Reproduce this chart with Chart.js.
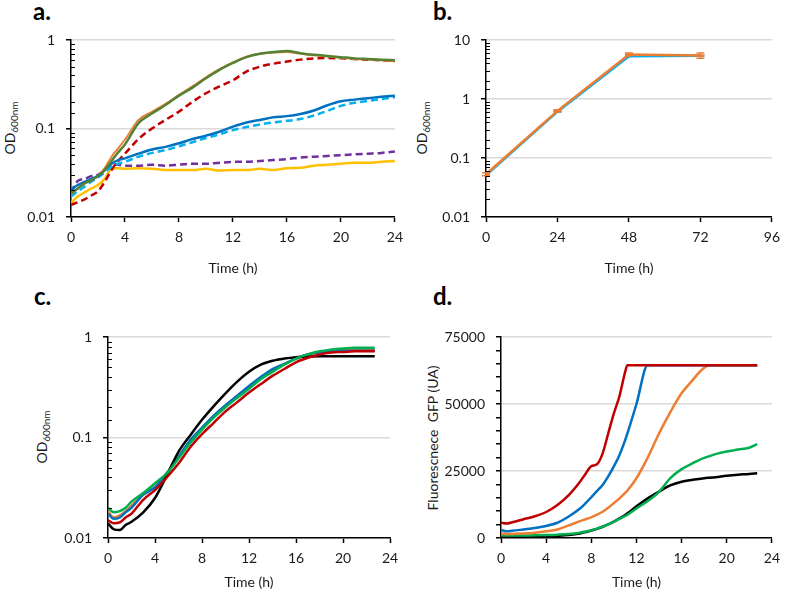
<!DOCTYPE html>
<html><head><meta charset="utf-8">
<script src="https://cdn.jsdelivr.net/npm/chart.js@4/dist/chart.umd.min.js"></script>
<style>
body{margin:0;background:#fff;width:787px;height:591px;overflow:hidden;position:relative;font-family:Lato,'Open Sans',sans-serif;}
canvas{position:absolute;}
.lbl{position:absolute;font-weight:bold;font-size:24px;line-height:24px;color:#000;}
.yt{position:absolute;font-size:14px;color:#1a1a1a;white-space:pre;line-height:14px;transform:translate(-50%,-50%) rotate(-90deg);}
.yt sub{font-size:10px;vertical-align:-3px;line-height:10px;}
</style></head><body>
<div class="lbl" style="left:33px;top:-1px">a.</div>
<div class="lbl" style="left:433px;top:-1px">b.</div>
<div class="lbl" style="left:34px;top:284px">c.</div>
<div class="lbl" style="left:433px;top:284px">d.</div>
<div class="yt" style="left:11px;top:128px">OD<sub>600nm</sub></div>
<div class="yt" style="left:423px;top:128px">OD<sub>600nm</sub></div>
<div class="yt" style="left:43px;top:437px">OD<sub>600nm</sub></div>
<div class="yt" style="left:433px;top:438px">Fluorescnece  GFP (UA)</div>
<canvas id="ca" width="410" height="290" style="left:0;top:0"></canvas>
<canvas id="cb" width="387" height="290" style="left:400px;top:0"></canvas>
<canvas id="cc" width="410" height="296" style="left:0;top:295px"></canvas>
<canvas id="cd" width="387" height="296" style="left:400px;top:295px"></canvas>
<script>
// ---------- Panel a data ----------
const A_T = [0,0.5,1,1.5,2,2.5,3,3.5,4,5,6,7,8,9,10,11,12,13,14,15,16,17,18,19,20,21,22,23,24];
const A_GREEN  = [0.0185,0.021,0.024,0.026,0.029,0.034,0.043,0.054,0.066,0.115,0.148,0.184,0.235,0.29,0.37,0.46,0.55,0.64,0.70,0.73,0.75,0.71,0.68,0.66,0.64,0.62,0.61,0.60,0.59];
const A_ORANGE = [0.018,0.021,0.024,0.026,0.029,0.036,0.048,0.060,0.075,0.125,0.155,0.19,0.24,0.30,0.38,0.47,0.56,0.65,0.70,0.72,0.73,0.70,0.67,0.65,0.63,0.61,0.60,0.59,0.57];
const A_RED    = [0.0137,0.0147,0.0158,0.0175,0.0195,0.025,0.034,0.043,0.052,0.076,0.100,0.125,0.155,0.20,0.25,0.30,0.35,0.44,0.50,0.54,0.57,0.60,0.62,0.625,0.62,0.61,0.60,0.59,0.58];
const A_BLUE   = [0.0205,0.023,0.025,0.027,0.029,0.034,0.040,0.044,0.046,0.052,0.058,0.062,0.068,0.076,0.083,0.092,0.105,0.117,0.125,0.134,0.138,0.146,0.160,0.183,0.203,0.212,0.220,0.228,0.235];
const A_LBLUE  = [0.017,0.0195,0.022,0.025,0.028,0.032,0.037,0.040,0.042,0.048,0.053,0.057,0.063,0.070,0.078,0.086,0.096,0.104,0.111,0.117,0.122,0.128,0.140,0.158,0.180,0.195,0.205,0.215,0.225];
const A_PURPLE = [0.019,0.0255,0.027,0.029,0.030,0.034,0.040,0.039,0.038,0.038,0.039,0.038,0.039,0.040,0.040,0.041,0.042,0.042,0.043,0.044,0.045,0.047,0.048,0.049,0.050,0.051,0.052,0.053,0.055];
const A_YELLOW = [0.0145,0.017,0.019,0.021,0.023,0.027,0.035,0.0355,0.035,0.0355,0.035,0.034,0.034,0.034,0.035,0.0335,0.034,0.034,0.035,0.034,0.0355,0.036,0.038,0.039,0.040,0.041,0.041,0.042,0.043];
// ---------- Panel b data ----------
const B_T = [0,24,48,72];
const B_ORANGE = [0.053,0.63,5.7,5.45];
const B_BLUE   = [0.051,0.61,5.3,5.4];
const B_ORANGE_ERR = [0.003,0.03,0.3,0.55];
// ---------- Panel c data ----------
const C_T = [0,0.5,1,1.5,2,3,4,5,6,7,8,9,10,11,12,13,14,15,16,17,18,19,20,21,22,22.7];
const C_BLACK  = [0.014,0.0122,0.012,0.0135,0.0145,0.018,0.025,0.042,0.072,0.105,0.15,0.205,0.275,0.36,0.45,0.53,0.58,0.61,0.63,0.64,0.645,0.645,0.645,0.645,0.645,0.645];
const C_GREEN  = [0.020,0.018,0.0185,0.020,0.023,0.028,0.035,0.044,0.062,0.088,0.120,0.158,0.200,0.248,0.305,0.38,0.45,0.53,0.61,0.67,0.72,0.75,0.77,0.78,0.78,0.78];
const C_RED    = [0.015,0.014,0.0143,0.016,0.0175,0.024,0.030,0.040,0.055,0.080,0.108,0.140,0.182,0.225,0.28,0.34,0.41,0.48,0.56,0.62,0.67,0.70,0.71,0.72,0.72,0.72];
const C_BLUE   = [0.0175,0.0155,0.016,0.018,0.020,0.027,0.032,0.044,0.064,0.094,0.125,0.165,0.21,0.26,0.325,0.40,0.48,0.54,0.61,0.67,0.70,0.72,0.73,0.73,0.73,0.73];
const C_ORANGE = [0.0185,0.016,0.0168,0.0185,0.021,0.027,0.032,0.044,0.063,0.092,0.123,0.162,0.207,0.257,0.32,0.39,0.47,0.535,0.61,0.67,0.71,0.73,0.74,0.745,0.745,0.745];
// ---------- Panel d data ----------
const D_T = [0,0.5,1,2,3,4,5,6,7,7.5,8,8.5,9,9.5,10,10.5,11,11.2,12,13,14,15,16,17,17.5,18,18.5,19,20,21,22,22.7];
const D_RED    = [5700,5400,5900,7000,8100,9700,12300,16000,21000,24000,26800,27500,31500,39000,46500,53000,62000,64500,64500,64500,64500,64500,64500,64500,64500,64500,64500,64500,64500,64500,64500,64500];
const D_BLUE   = [3000,2500,2700,3200,3700,4500,5700,8000,11000,13000,15200,17500,19800,23000,26700,31000,36500,39000,50000,64500,64500,64500,64500,64500,64500,64500,64500,64500,64500,64500,64500,64500];
const D_ORANGE = [1700,1500,1500,1700,2000,2500,3200,4700,6300,7000,7700,8700,9800,11300,13000,14800,16800,17700,22300,30000,39000,47000,54000,59000,61500,63500,64500,64500,64500,64500,64500,64500];
const D_GREEN  = [1000,900,900,950,1000,1100,1250,1500,2000,2400,2900,3500,4200,5100,6100,7100,8200,8700,11000,13800,17200,22300,25700,27900,29000,29900,30600,31300,32300,33000,33700,35000];
const D_BLACK  = [500,450,450,500,500,600,800,1100,1700,2200,2800,3400,4200,5100,6100,7300,8600,9200,11800,14800,17300,19600,21000,21700,22000,22300,22500,22700,23200,23600,23900,24200];

Chart.defaults.font.family = "Lato, 'Open Sans', sans-serif";
Chart.defaults.font.size = 14;
Chart.defaults.font.weight = 'normal';
Chart.defaults.color = '#1a1a1a';

const isDecade = v => Math.abs(Math.log10(v) - Math.round(Math.log10(v))) < 1e-6;
const pts = (T, Y) => T.map((t, i) => ({x: t, y: Y[i]}));

function ds(label, T, Y, color, opt) {
  return Object.assign({label, data: pts(T, Y), borderColor: color, backgroundColor: color,
    borderWidth: 2.5, pointRadius: 0, fill: false, cubicInterpolationMode: 'monotone',
    borderCapStyle: 'butt'}, opt || {});
}

function logY(min, max, w) {
  return {
    type: 'logarithmic', min, max,
    afterFit: s => { s.width = w; },
    border: {color: '#000', width: 1.5},
    grid: {
      color: c => (c.tick && isDecade(c.tick.value)) ? '#d9d9d9' : 'rgba(0,0,0,0)',
      lineWidth: 1.5, tickLength: 5, tickWidth: 1.5,
      tickColor: c => (c.tick && isDecade(c.tick.value)) ? '#000' : 'rgba(0,0,0,0)'
    },
    ticks: {autoSkip: false, padding: 11,
      callback: v => isDecade(v) ? String(Number(Number(v).toPrecision(1))) : ''}
  };
}
function linX(min, max, step, h) {
  return {
    type: 'linear', min, max,
    afterFit: s => { s.height = h; },
    border: {color: '#000', width: 1.5},
    grid: {drawOnChartArea: false, tickLength: 5, tickColor: '#000', tickWidth: 1.5},
    ticks: {stepSize: step, padding: 7, maxRotation: 0, autoSkip: false},
    title: {display: true, text: 'Time (h)', padding: 0, color: '#1a1a1a', font: {size: 14, weight: 'normal'}}
  };
}

const minorTicks = {
  id: 'minorTicks',
  afterDraw(chart) {
    const y = chart.scales.y;
    if (y.type !== 'logarithmic') return;
    const ctx = chart.ctx, x0 = chart.chartArea.left;
    ctx.save();
    ctx.strokeStyle = '#000'; ctx.lineWidth = 1;
    y.ticks.forEach(t => {
      if (isDecade(t.value)) return;
      const py = Math.round(y.getPixelForValue(t.value)) + 0.5;
      ctx.beginPath(); ctx.moveTo(x0, py); ctx.lineTo(x0 + 4, py); ctx.stroke();
    });
    ctx.restore();
  }
};
const errBars = {
  id: 'errBars',
  afterDatasetsDraw(chart, args, o) {
    if (!o || !o.errors) return;
    const xs = chart.scales.x, ys = chart.scales.y, ctx = chart.ctx;
    ctx.save(); ctx.strokeStyle = o.color; ctx.lineWidth = 1.5;
    o.x.forEach((t, i) => {
      const px = xs.getPixelForValue(t);
      const y1 = ys.getPixelForValue(o.y[i] + o.errors[i]);
      const y2 = ys.getPixelForValue(o.y[i] - o.errors[i]);
      ctx.beginPath();
      ctx.moveTo(px, y1); ctx.lineTo(px, y2);
      ctx.moveTo(px - 4, y1); ctx.lineTo(px + 4, y1);
      ctx.moveTo(px - 4, y2); ctx.lineTo(px + 4, y2);
      ctx.stroke();
    });
    ctx.restore();
  }
};

const base = (pad) => ({
  responsive: false, animation: false, devicePixelRatio: 1,
  layout: {padding: pad},
  plugins: {legend: {display: false}, tooltip: {enabled: false}}
});

// Panel a
new Chart(document.getElementById('ca'), {
  type: 'line',
  data: {datasets: [
    ds('green', A_T, A_GREEN, '#548235'),
    ds('orange', A_T, A_ORANGE, '#ED7D31', {borderWidth: 1.8}),
    ds('blue', A_T, A_BLUE, '#0070C0'),
    ds('lightblue', A_T, A_LBLUE, '#00B0F0', {borderDash: [7, 4]}),
    ds('red', A_T, A_RED, '#C00000', {borderDash: [7, 4]}),
    ds('purple', A_T, A_PURPLE, '#7030A0', {borderDash: [7, 4]}),
    ds('yellow', A_T, A_YELLOW, '#FFC000')
  ]},
  options: Object.assign(base({top: 40, left: 0, right: 13, bottom: 13}), {
    scales: {x: linX(0, 24, 4, 60), y: logY(0.01, 1, 71)}
  }),
  plugins: [minorTicks]
});

// Panel b
const optB = base({top: 40, left: 0, right: 8, bottom: 13});
optB.plugins.errBars = {x: B_T, y: B_ORANGE, errors: B_ORANGE_ERR, color: '#ED7D31'};
optB.scales = {x: linX(0, 96, 24, 60), y: logY(0.01, 10, 86)};
new Chart(document.getElementById('cb'), {
  type: 'line',
  data: {datasets: [
    ds('orange', B_T, B_ORANGE, '#ED7D31', {cubicInterpolationMode: 'default', tension: 0, pointStyle: 'line', pointRadius: 4, pointBorderWidth: 2}),
    ds('blue', B_T, B_BLUE, '#00B0F0', {cubicInterpolationMode: 'default', tension: 0, pointStyle: 'line', pointRadius: 4, pointBorderWidth: 2})
  ]},
  options: optB,
  plugins: [minorTicks, errBars]
});

// Panel c
new Chart(document.getElementById('cc'), {
  type: 'line',
  data: {datasets: [
    ds('green', C_T, C_GREEN, '#00B050'),
    ds('red', C_T, C_RED, '#C00000'),
    ds('black', C_T, C_BLACK, '#000000'),
    ds('blue', C_T, C_BLUE, '#0070C0'),
    ds('orange', C_T, C_ORANGE, '#ED7D31')
  ]},
  options: Object.assign(base({top: 42, left: 0, right: 20, bottom: 0}), {
    scales: {x: linX(0, 24, 4, 53), y: logY(0.01, 1, 108)}
  }),
  plugins: [minorTicks]
});

// Panel d
new Chart(document.getElementById('cd'), {
  type: 'line',
  data: {datasets: [
    ds('red', D_T, D_RED, '#C00000'),
    ds('blue', D_T, D_BLUE, '#0070C0'),
    ds('orange', D_T, D_ORANGE, '#ED7D31'),
    ds('green', D_T, D_GREEN, '#00B050'),
    ds('black', D_T, D_BLACK, '#000000')
  ]},
  options: Object.assign(base({top: 42, left: 0, right: 8, bottom: 0}), {
    scales: {
      x: linX(0, 24, 4, 53),
      y: {
        type: 'linear', min: 0, max: 75000,
        afterFit: s => { s.width = 101; },
        border: {color: '#000', width: 1.5},
        grid: {
          color: c => (c.tick && c.tick.value > 0 && c.tick.value % 25000 === 0) ? '#d9d9d9' : 'rgba(0,0,0,0)',
          lineWidth: 1.5, tickLength: 5, tickWidth: 1.5, tickColor: '#000'
        },
        ticks: {stepSize: 5000, autoSkip: false, padding: 11,
          callback: v => (v % 25000 === 0) ? String(v) : ''}
      }
    }
  })
});
</script>
</body></html>
